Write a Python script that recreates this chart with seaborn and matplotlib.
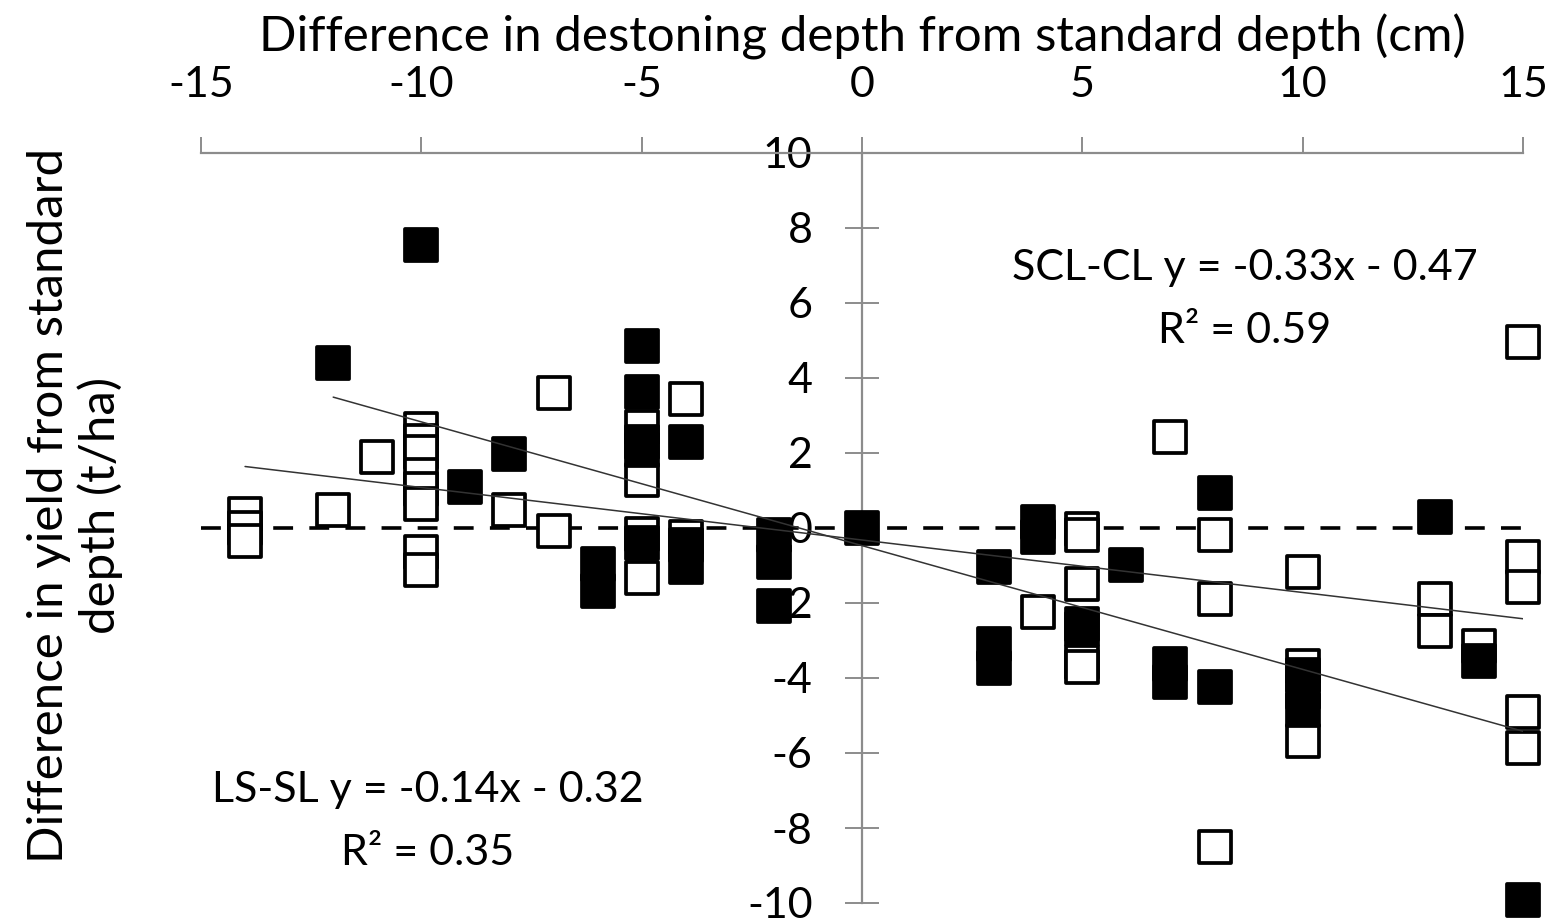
import matplotlib
matplotlib.use("Agg")
import matplotlib.pyplot as plt
import seaborn as sns
import numpy as np
import pandas as pd

# ---- data ----
scl_x = [-12, -10, -9, -8, -6, -6, -5, -5, -5, -5, -5, -4, -4, -4, -2, -2, -2, 0,
         3, 3, 3, 4, 4, 5, 5, 6, 7, 7, 8, 8, 10, 10, 10, 13, 14, 15]
scl_y = [4.4, 7.55, 1.09, 1.97, -0.96, -1.68, 4.86, 3.63, 2.29, 2.08, -0.41, 2.29, -0.46, -1.05,
         -0.19, -0.92, -2.07, 0.0, -1.04, -3.1, -3.73, 0.16, -0.24, -2.57, -2.7, -0.99,
         -3.63, -4.1, 0.93, -4.24, -3.92, -4.37, -4.85, 0.29, -3.55, -9.92]

ls_x = [-14, -14, -14, -12, -11, -10, -10, -10, -10, -10, -10, -10, -10, -8, -7, -7,
        -5, -5, -5, -5, -4, -4, 4, 5, 5, 5, 5, 5, 7, 8, 8, 8, 10, 10, 10, 13, 13, 14,
        15, 15, 15, 15, 15]
ls_y = [0.37, 0.01, -0.35, 0.48, 1.9, 2.64, 2.33, 2.02, 1.4, 1.04, 0.64, -0.64, -1.12, 0.49,
        3.59, -0.07, 2.69, 1.28, -0.17, -1.33, 3.44, -0.25, -2.24, -0.03, -0.2, -1.49,
        -3.57, -3.71, 2.42, -0.19, -1.89, -8.5, -1.17, -3.68, -5.68, -1.89, -2.76, -3.15,
        4.97, -0.77, -1.58, -4.9, -5.87]

# trendlines as given in the chart annotations
trend_names = ["SCL-CL", "LS-SL"]
trend_slopes = [-0.33, -0.14]
trend_intercepts = [-0.47, -0.32]
trend_r2 = ["0.59", "0.35"]
trend_xrange = [(-12, 15), (-14, 15)]

x_ticks = [-15, -10, -5, 0, 5, 10, 15]
y_ticks = [-10, -8, -6, -4, -2, 0, 2, 4, 6, 8, 10]

xlabel = "Difference in destoning depth from standard depth (cm)"
ylabel = "Difference in yield from standard\ndepth (t/ha)"

# ---- style ----
sns.set_theme(style="white")
plt.rcParams["font.family"] = ["Lato", "DejaVu Sans"]
plt.rcParams["axes.unicode_minus"] = False

W, H = 1557, 919
fig = plt.figure(figsize=(W / 100, H / 100), dpi=100)
ax = fig.add_axes([201 / W, 1 - 903 / H, (1523 - 201) / W, (903 - 153) / H])

grey = "#8c8c8c"
fs = 31

df_ls = pd.DataFrame({"x": ls_x, "y": ls_y})
df_scl = pd.DataFrame({"x": scl_x, "y": scl_y})

msize = 500
mlw = 2.7
sns.scatterplot(data=df_ls, x="x", y="y", ax=ax, marker="s", s=msize,
                facecolor="white", edgecolor="black", linewidth=mlw, zorder=3, clip_on=False)
sns.scatterplot(data=df_scl, x="x", y="y", ax=ax, marker="s", s=msize,
                color="black", edgecolor="black", linewidth=mlw, zorder=4, clip_on=False)

# trendlines
for m, b, (x0, x1) in zip(trend_slopes, trend_intercepts, trend_xrange):
    xs = np.array([x0, x1])
    ax.plot(xs, m * xs + b, color="#333333", lw=1.1, zorder=5)

# zero line
ax.axhline(0, color="black", lw=2.6, ls=(0, (5.5, 4.5)), zorder=2)

ax.set_xlim(-15, 15)
ax.set_ylim(-10, 10)

# axes arrangement
ax.spines["left"].set_position(("data", 0))
ax.spines["bottom"].set_visible(False)
ax.spines["right"].set_visible(False)
for s in ("left", "top"):
    ax.spines[s].set_color(grey)
    ax.spines[s].set_linewidth(1.6)
    ax.spines[s].set_zorder(1)

ax.xaxis.tick_top()
ax.xaxis.set_label_position("top")
ax.set_xticks(x_ticks)
ax.set_xticklabels([str(v) for v in x_ticks])
ax.set_yticks(y_ticks)
ax.set_yticklabels([str(v) for v in y_ticks])
ax.tick_params(axis="x", direction="out", length=11.5, width=1.4, color=grey,
               pad=24, labelsize=fs, labelcolor="black")
ax.tick_params(axis="y", direction="inout", length=25, width=1.4, color=grey,
               pad=23, labelsize=fs, labelcolor="black", left=True)
ax.set_xlabel(xlabel, fontsize=35.5, labelpad=10, color="black")
ax.set_ylabel("")

fig.text(75 / W, 1 - 505 / H, ylabel, rotation=90, ha="center", va="center",
         fontsize=35.5, linespacing=1.15, color="black")

# trendline annotations
ann_pos = [(1245, 280, 343), (428, 802, 865)]
for name, m, b, r2, (cx, y1, y2) in zip(trend_names, trend_slopes, trend_intercepts, trend_r2, ann_pos):
    fig.text(cx / W, 1 - y1 / H, f"{name} y = {m:.2f}x - {abs(b):.2f}", ha="center",
             va="baseline", fontsize=fs, color="black")
    fig.text(cx / W, 1 - y2 / H, f"R² = {r2}", ha="center", va="baseline",
             fontsize=fs, color="black")

fig.savefig("out.png", dpi=100, facecolor="white")
